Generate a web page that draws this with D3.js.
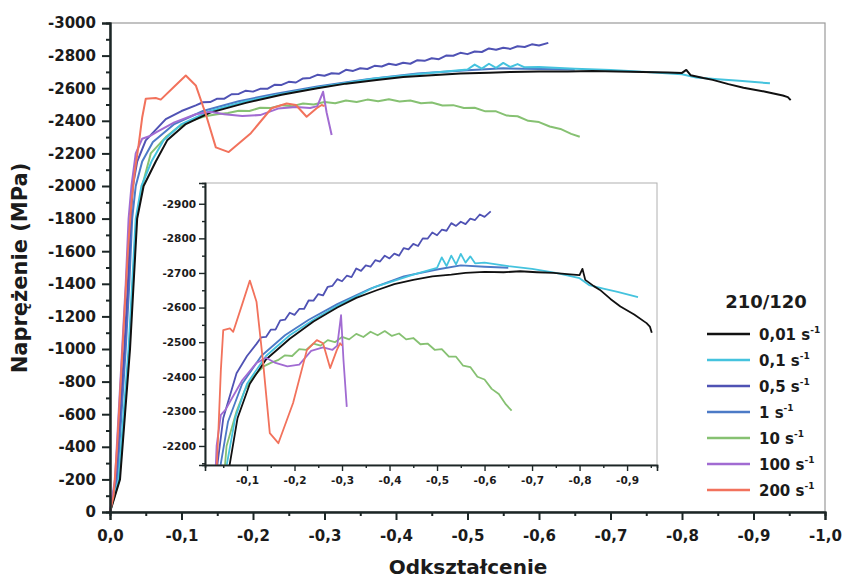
<!DOCTYPE html>
<html>
<head>
<meta charset="utf-8">
<script src="https://cdn.jsdelivr.net/npm/d3@7"></script>
<style>
  body { margin: 0; background: #fff; }
  svg text { font-family: "DejaVu Sans", sans-serif; font-weight: bold; fill: #1b1b1b; }
</style>
</head>
<body>
<div id="chart"></div>
<script>
// strain (Odkształcenie) vs stress (Naprężenie, MPa)
const rate001 = [[0,0],[-0.014,-200],[-0.021,-600],[-0.028,-1000],[-0.033,-1400],[-0.038,-1800],[-0.047,-2000],
  [-0.064,-2150],[-0.08,-2280],[-0.106,-2380],[-0.14,-2450],[-0.19,-2510],[-0.24,-2560],[-0.29,-2600],
  [-0.33,-2628],[-0.373,-2650],[-0.41,-2668],[-0.45,-2680],[-0.49,-2690],[-0.53,-2695],[-0.56,-2700],
  [-0.6,-2703],[-0.64,-2702],[-0.675,-2705],[-0.71,-2702],[-0.745,-2700],[-0.78,-2696],[-0.8,-2694],
  [-0.806,-2712],[-0.812,-2680],[-0.83,-2662],[-0.843,-2651],[-0.865,-2625],[-0.886,-2603],[-0.915,-2580],
  [-0.941,-2555],[-0.948,-2545],[-0.952,-2527]];
const rate01 = [[0,0],[-0.012,-200],[-0.019,-600],[-0.026,-1000],[-0.031,-1400],[-0.036,-1800],[-0.044,-2000],
  [-0.058,-2150],[-0.075,-2280],[-0.1,-2380],[-0.14,-2460],[-0.19,-2520],[-0.24,-2565],[-0.29,-2605],
  [-0.37,-2660],[-0.45,-2695],[-0.5,-2715],[-0.51,-2745],[-0.52,-2720],[-0.53,-2750],[-0.54,-2725],
  [-0.55,-2755],[-0.56,-2730],[-0.57,-2748],[-0.58,-2728],[-0.6,-2730],[-0.65,-2720],[-0.7,-2712],
  [-0.75,-2700],[-0.8,-2685],[-0.82,-2665],[-0.85,-2655],[-0.88,-2645],[-0.923,-2630]];
const rate05 = [[0,0],[-0.008,-200],[-0.014,-600],[-0.02,-1000],[-0.025,-1400],[-0.029,-1800],[-0.032,-2000],
  [-0.038,-2150],[-0.05,-2280],[-0.078,-2410],[-0.1,-2460],[-0.12,-2495],[-0.13,-2514],[-0.14,-2515],
  [-0.15,-2536],[-0.16,-2536],[-0.17,-2563],[-0.18,-2565],[-0.19,-2585],[-0.2,-2579],[-0.21,-2596],
  [-0.22,-2596],[-0.23,-2621],[-0.24,-2620],[-0.25,-2639],[-0.26,-2635],[-0.27,-2660],[-0.28,-2663],
  [-0.29,-2682],[-0.3,-2676],[-0.31,-2692],[-0.32,-2688],[-0.33,-2713],[-0.34,-2706],[-0.35,-2722],
  [-0.36,-2718],[-0.37,-2737],[-0.38,-2733],[-0.39,-2750],[-0.4,-2742],[-0.41,-2756],[-0.42,-2750],
  [-0.43,-2772],[-0.44,-2768],[-0.45,-2784],[-0.46,-2778],[-0.47,-2800],[-0.48,-2799],[-0.49,-2817],
  [-0.5,-2809],[-0.51,-2825],[-0.52,-2822],[-0.53,-2844],[-0.54,-2836],[-0.55,-2848],[-0.56,-2841],
  [-0.57,-2857],[-0.58,-2853],[-0.59,-2869],[-0.6,-2862],[-0.613,-2878]];
const rate1 = [[0,0],[-0.01,-200],[-0.016,-600],[-0.022,-1000],[-0.027,-1400],[-0.031,-1800],[-0.036,-2000],
  [-0.045,-2150],[-0.06,-2270],[-0.09,-2380],[-0.13,-2460],[-0.18,-2520],[-0.23,-2565],[-0.29,-2610],
  [-0.36,-2655],[-0.43,-2690],[-0.5,-2710],[-0.55,-2722],[-0.6,-2718],[-0.65,-2715]];
const rate10 = [[0,0],[-0.013,-200],[-0.02,-600],[-0.027,-1000],[-0.032,-1400],[-0.037,-1800],[-0.045,-2000],
  [-0.057,-2200],[-0.078,-2300],[-0.095,-2360],[-0.113,-2400],[-0.135,-2430],[-0.15,-2440],[-0.165,-2448],
  [-0.18,-2462],[-0.195,-2460],[-0.21,-2480],[-0.225,-2478],[-0.24,-2496],[-0.255,-2490],[-0.27,-2506],
  [-0.285,-2500],[-0.3,-2515],[-0.315,-2508],[-0.33,-2524],[-0.345,-2515],[-0.36,-2530],[-0.375,-2520],
  [-0.39,-2532],[-0.405,-2518],[-0.42,-2525],[-0.435,-2508],[-0.45,-2512],[-0.465,-2494],[-0.48,-2496],
  [-0.495,-2478],[-0.51,-2480],[-0.525,-2458],[-0.54,-2458],[-0.555,-2432],[-0.57,-2428],[-0.585,-2400],
  [-0.6,-2392],[-0.615,-2365],[-0.63,-2350],[-0.645,-2320],[-0.657,-2302]];
const rate100 = [[0,0],[-0.007,-200],[-0.012,-600],[-0.017,-1000],[-0.022,-1400],[-0.026,-1800],[-0.03,-2000],
  [-0.036,-2200],[-0.045,-2290],[-0.055,-2305],[-0.065,-2330],[-0.09,-2390],[-0.12,-2440],[-0.14,-2455],
  [-0.16,-2440],[-0.185,-2430],[-0.21,-2435],[-0.235,-2475],[-0.26,-2485],[-0.28,-2478],[-0.29,-2490],
  [-0.298,-2578],[-0.303,-2450],[-0.31,-2313]];
const rate200 = [[0,0],[-0.005,-100],[-0.01,-400],[-0.015,-800],[-0.02,-1200],[-0.025,-1600],[-0.03,-1900],
  [-0.035,-2100],[-0.04,-2250],[-0.045,-2420],[-0.05,-2535],[-0.064,-2540],[-0.071,-2530],[-0.09,-2610],
  [-0.106,-2678],[-0.12,-2617],[-0.134,-2440],[-0.148,-2237],[-0.166,-2208],[-0.197,-2324],[-0.226,-2477],
  [-0.247,-2506],[-0.26,-2497],[-0.275,-2425],[-0.289,-2477],[-0.296,-2497],[-0.3,-2490]];

const seriesNames = ["0,01", "0,1", "0,5", "1", "10", "100", "200"];
const seriesData = [rate001, rate01, rate05, rate1, rate10, rate100, rate200];
const seriesColors = ["#111111", "#45c3de", "#4f52b4", "#4c7ac6", "#86c172", "#a16bd2", "#f2725c"];
const drawOrder = [4, 3, 1, 0, 2, 5, 6];

const yTicks = d3.range(0, -3001, -200);
const yTickLabels = ["0","-200","-400","-600","-800","-1000","-1200","-1400","-1600","-1800","-2000","-2200","-2400","-2600","-2800","-3000"];
const xTicks = d3.range(0, 11).map(i => -i / 10);
const xTickLabels = ["0,0","-0,1","-0,2","-0,3","-0,4","-0,5","-0,6","-0,7","-0,8","-0,9","-1,0"];
const insetYTicks = [-2200, -2300, -2400, -2500, -2600, -2700, -2800, -2900];
const insetYTickLabels = ["-2200","-2300","-2400","-2500","-2600","-2700","-2800","-2900"];
const insetXTicks = d3.range(1, 10).map(i => -i / 10);
const insetXTickLabels = ["-0,1","-0,2","-0,3","-0,4","-0,5","-0,6","-0,7","-0,8","-0,9"];

const W = 843, H = 580;
const svg = d3.select("#chart").append("svg").attr("width", W).attr("height", H);

const x = d3.scaleLinear().domain([0, -1]).range([110, 825]);
const y = d3.scaleLinear().domain([0, -3000]).range([512, 23]);

// frame
svg.append("rect").attr("x", 110).attr("y", 23).attr("width", 715).attr("height", 489)
  .attr("fill", "none").attr("stroke", "#9a9a9a").attr("stroke-width", 1.2);

const line = (sx, sy) => d3.line().x(d => sx(d[0])).y(d => sy(d[1]));

// main curves
const mainLine = line(x, y);
const gMain = svg.append("g");
drawOrder.forEach(i => {
  gMain.append("path").datum(seriesData[i]).attr("d", mainLine)
    .attr("fill", "none").attr("stroke", seriesColors[i]).attr("stroke-width", 2)
    .attr("stroke-linejoin", "round");
});

// main axes
const axisStyle = g => {
  g.selectAll("path.domain").attr("stroke", "#1c2626").attr("stroke-width", 2);
  g.selectAll(".tick line").attr("stroke", "#1c2626").attr("stroke-width", 2);
};
svg.append("g").attr("transform", "translate(110,0)")
  .call(d3.axisLeft(y).tickValues(d3.range(-100, -3000, -200)).tickSize(4).tickFormat(""))
  .call(axisStyle);
svg.append("g").attr("transform", "translate(110,0)")
  .call(d3.axisLeft(y).tickValues(yTicks).tickSize(8).tickPadding(6)
    .tickFormat((d, i) => yTickLabels[i]))
  .call(axisStyle)
  .selectAll("text").style("font-size", "15px").style("font-family", "DejaVu Sans").style("font-weight", "bold");
svg.append("g").attr("transform", "translate(0,512)")
  .call(d3.axisBottom(x).tickValues(d3.range(1, 20, 2).map(i => -i / 20)).tickSize(4).tickFormat(""))
  .call(axisStyle);
svg.append("g").attr("transform", "translate(0,512)")
  .call(d3.axisBottom(x).tickValues(xTicks).tickSize(8).tickPadding(10)
    .tickFormat((d, i) => xTickLabels[i]))
  .call(axisStyle)
  .selectAll("text").style("font-size", "15px").style("font-family", "DejaVu Sans").style("font-weight", "bold");

// axis titles
svg.append("text").attr("x", 468).attr("y", 574).attr("text-anchor", "middle")
  .style("font-size", "20px").text("Odkształcenie");
svg.append("text").attr("transform", "translate(27,268) rotate(-90)").attr("text-anchor", "middle")
  .style("font-size", "21px").text("Naprężenie (MPa)");

// inset
const ix = d3.scaleLinear().domain([-0.0116, -0.963]).range([205, 657]);
const iy = d3.scaleLinear().domain([-2145, -2960]).range([465, 183]);
svg.append("rect").attr("x", 205).attr("y", 183).attr("width", 452).attr("height", 282)
  .attr("fill", "#fff").attr("stroke", "#b0b0b0").attr("stroke-width", 1);
svg.append("defs").append("clipPath").attr("id", "insetClip")
  .append("rect").attr("x", 205).attr("y", 183).attr("width", 452).attr("height", 282);
const gInset = svg.append("g").attr("clip-path", "url(#insetClip)");
const insetLine = line(ix, iy);
drawOrder.forEach(i => {
  gInset.append("path").datum(seriesData[i]).attr("d", insetLine)
    .attr("fill", "none").attr("stroke", seriesColors[i]).attr("stroke-width", 1.8)
    .attr("stroke-linejoin", "round");
});
const insetAxisStyle = g => {
  g.selectAll("path.domain").attr("stroke", "#1c2626").attr("stroke-width", 1.6);
  g.selectAll(".tick line").attr("stroke", "#1c2626").attr("stroke-width", 1.4);
  g.selectAll("text").style("font-size", "10.5px").style("font-family", "DejaVu Sans").style("font-weight", "bold");
};
svg.append("g").attr("transform", "translate(205,0)")
  .call(d3.axisLeft(iy).tickValues(d3.range(-2150, -2960, -50).filter(v => v % 100 !== 0)).tickSize(3).tickFormat(""))
  .call(insetAxisStyle);
svg.append("g").attr("transform", "translate(205,0)")
  .call(d3.axisLeft(iy).tickValues(insetYTicks).tickSize(6).tickPadding(3)
    .tickFormat((d, i) => insetYTickLabels[i]))
  .call(insetAxisStyle);
svg.append("g").attr("transform", "translate(0,465)")
  .call(d3.axisBottom(ix).tickValues(d3.range(1, 20, 2).map(i => -i / 20)).tickSize(3).tickFormat(""))
  .call(insetAxisStyle);
svg.append("g").attr("transform", "translate(0,465)")
  .call(d3.axisBottom(ix).tickValues(insetXTicks).tickSize(6).tickPadding(6)
    .tickFormat((d, i) => insetXTickLabels[i]))
  .call(insetAxisStyle);

// legend
const legend = svg.append("g");
legend.append("text").attr("x", 766).attr("y", 308).attr("text-anchor", "middle")
  .style("font-size", "18px").text("210/120");
seriesNames.forEach((name, i) => {
  const ly = 334 + i * 26;
  legend.append("line").attr("x1", 707).attr("x2", 750).attr("y1", ly).attr("y2", ly)
    .attr("stroke", seriesColors[i]).attr("stroke-width", 2.4);
  const t = legend.append("text").attr("x", 759).attr("y", ly + 6).style("font-size", "15px");
  t.append("tspan").text(name + " s");
  t.append("tspan").attr("dy", -7).style("font-size", "9px").text("-1");
});
</script>
</body>
</html>
